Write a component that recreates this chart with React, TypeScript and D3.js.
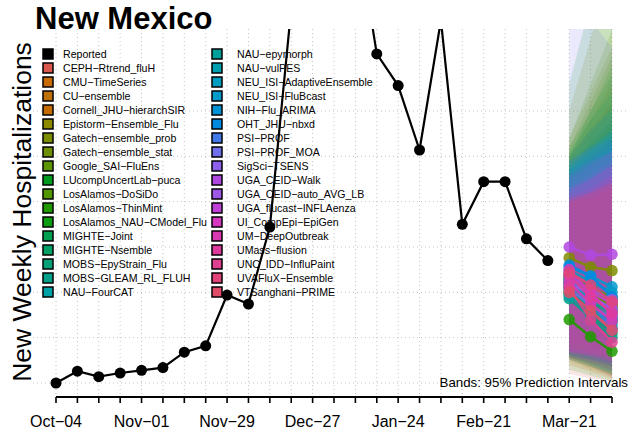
import React, { useEffect } from "react";
import * as d3 from "d3";

// ---------- data ----------
const reportedWeek = [0, 1, 2, 3, 4, 5, 6, 7, 8, 9, 10, 11, 12, 13, 14, 15, 16, 17, 18, 19, 20, 21, 22, 23];
const reportedValue = [0, 13, 7, 11, 14, 17, 34, 41, 97, 87, 172, 413, 520, 600, 511, 363, 328, 257, 400, 175, 222, 222, 159, 135];

const allWeeks = [0, 1, 2, 3, 4, 5, 6, 7, 8, 9, 10, 11, 12, 13, 14, 15, 16, 17, 18, 19, 20, 21, 22, 23, 24, 25, 26];
const xTickWeeks = [0, 4, 8, 12, 16, 20, 24];
const xTickLabels = ["Oct−04", "Nov−01", "Nov−29", "Dec−27", "Jan−24", "Feb−21", "Mar−21"];
const yBreaks = [0, 50, 100, 150, 200, 250, 300];

const forecastWeek = [24, 25, 26];

const models = [
  "CEPH−Rtrend_fluH", "CMU−TimeSeries", "CU−ensemble", "Cornell_JHU−hierarchSIR",
  "Epistorm−Ensemble_Flu", "Gatech−ensemble_prob", "Gatech−ensemble_stat", "Google_SAI−FluEns",
  "LUcompUncertLab−puca", "LosAlamos−DoSiDo", "LosAlamos−ThinMint", "LosAlamos_NAU−CModel_Flu",
  "MIGHTE−Joint", "MIGHTE−Nsemble", "MOBS−EpyStrain_Flu", "MOBS−GLEAM_RL_FLUH", "NAU−FourCAT",
  "NAU−epymorph", "NAU−vulPES", "NEU_ISI−AdaptiveEnsemble", "NEU_ISI−FluBcast", "NIH−Flu_ARIMA",
  "OHT_JHU−nbxd", "PSI−PROF", "PSI−PROF_MOA", "SigSci−TSENS", "UGA_CEID−Walk",
  "UGA_CEID−auto_AVG_LB", "UGA_flucast−INFLAenza", "UI_CompEpi−EpiGen", "UM−DeepOutbreak",
  "UMass−flusion", "UNC_IDD−InfluPaint", "UVAFluX−Ensemble", "VTSanghani−PRIME",
];

const modelColors = [
  "#D9584B", "#C86A00", "#C07000", "#C46C00",
  "#8E8A00", "#7E8C00", "#6E9000", "#5E9400",
  "#009A20", "#529600", "#1E9A00", "#0E9C10",
  "#00A050", "#00A066", "#00A078", "#00A08A", "#00A0A6",
  "#00A09A", "#00A0B0", "#009EC0", "#009ACC", "#0094D6",
  "#008AE0", "#4078E8", "#7070EC", "#8A60EC", "#B048E0",
  "#9E58E8", "#C040D8", "#D838C0", "#D838B0",
  "#DE3C9C", "#E04090", "#E0447A", "#E04C68",
];

const fcMedian = [
  [110, 95, 85], [115, 100, 90], [105, 92, 80], [112, 98, 85],
  [118, 104, 92], [138, 128, 124], [120, 105, 95], [108, 90, 78],
  [100, 85, 70], [115, 100, 85], [70, 51, 35], [112, 94, 60],
  [118, 106, 92], [105, 88, 72], [98, 75, 55], [93, 72, 50], [96, 80, 65],
  [102, 84, 68], [110, 92, 76], [124, 112, 100], [128, 118, 106], [115, 96, 80],
  [130, 118, 95], [108, 90, 60], [104, 86, 72], [112, 96, 82], [150, 141, 142],
  [106, 103, 92], [120, 100, 88], [125, 100, 75], [110, 88, 68],
  [118, 95, 78], [105, 70, 45], [122, 108, 90], [100, 80, 58],
];

const fcUpper = [
  [250, 280, 310], [240, 265, 290], [230, 250, 270], [235, 260, 285],
  [300, 380, 460], [270, 320, 370], [250, 290, 330], [260, 310, 360],
  [330, 420, 500], [270, 330, 390], [250, 300, 350], [260, 300, 340],
  [255, 290, 320], [245, 275, 305], [240, 265, 290], [235, 260, 280], [250, 280, 300],
  [240, 260, 280], [235, 255, 275], [245, 260, 275], [240, 255, 270], [230, 245, 260],
  [235, 250, 265], [245, 260, 270], [430, 400, 370], [225, 240, 255], [230, 245, 255],
  [215, 230, 245], [215, 225, 240], [210, 225, 240], [205, 215, 230],
  [200, 210, 225], [200, 210, 220], [200, 205, 215], [205, 210, 220],
];

const fcLower = [
  [10, 5, 2], [20, 12, 5], [25, 15, 8], [30, 25, 18],
  [32, 28, 22], [40, 35, 30], [32, 26, 20], [28, 22, 15],
  [26, 18, 10], [30, 25, 18], [15, 8, 2], [28, 20, 8],
  [36, 30, 25], [30, 26, 20], [28, 20, 12], [26, 18, 10], [30, 25, 18],
  [32, 26, 20], [34, 28, 22], [38, 34, 30], [40, 36, 32], [32, 26, 20],
  [36, 30, 22], [30, 22, 12], [28, 24, 18], [34, 30, 25], [45, 40, 38],
  [34, 32, 30], [34, 30, 26], [36, 30, 22], [32, 26, 20],
  [34, 30, 24], [26, 18, 6], [38, 34, 28], [28, 22, 14],
];

// ---------- layout ----------
const W = 629;
const H = 432;
const panel = { left: 33, right: 628, top: 29, bottom: 395 };
const FONT = "'Liberation Sans', Arial, Helvetica, sans-serif";

const x = d3.scaleLinear().domain([0, 26]).range([56, 612]);
const y = d3.scaleLinear().domain([0, 300]).range([383, 111]);

export default function App() {
  useEffect(() => {
    document.body.style.margin = "0";
  }, []);

  const line = d3
    .line<[number, number]>()
    .x((d) => x(d[0]))
    .y((d) => y(d[1]));

  const area = d3
    .area<[number, number, number]>()
    .x((d) => x(d[0]))
    .y0((d) => y(d[1]))
    .y1((d) => y(d[2]));

  const reported: [number, number][] = reportedWeek.map((w, i) => [w, reportedValue[i]]);

  const legendCol1 = ["Reported", ...models.slice(0, 17)];
  const legendCol1Colors = ["#000000", ...modelColors.slice(0, 17)];
  const legendCol2 = models.slice(17);
  const legendCol2Colors = modelColors.slice(17);

  const rowY = (i: number) => 54 + i * 14.0;

  return (
    <svg
      width={W}
      height={H}
      style={{ position: "absolute", left: 0, top: 0, background: "#fff" }}
      fontFamily={FONT}
    >
      <defs>
        <clipPath id="panelClip">
          <rect x={panel.left} y={panel.top} width={panel.right - panel.left} height={panel.bottom - panel.top} />
        </clipPath>
      </defs>
      <rect x={0} y={0} width={W} height={H} fill="#fff" />

      {/* grid */}
      <g stroke="#c4c4c4" strokeWidth={1} strokeDasharray="1,3">
        {yBreaks.map((v) => (
          <line key={"h" + v} x1={panel.left} x2={panel.right} y1={y(v)} y2={y(v)} />
        ))}
        {allWeeks.map((w) => (
          <line key={"v" + w} x1={x(w)} x2={x(w)} y1={panel.top} y2={panel.bottom} />
        ))}
      </g>

      <g clipPath="url(#panelClip)">
        {/* ribbons */}
        {models.map((m, i) => (
          <path
            key={"r" + m}
            d={area(forecastWeek.map((w, j) => [w, fcLower[i][j], fcUpper[i][j]] as [number, number, number])) || ""}
            fill={modelColors[i]}
            fillOpacity={0.15}
            stroke="none"
          />
        ))}
        {/* forecast lines */}
        {models.map((m, i) => (
          <g key={"f" + m}>
            <path
              d={line(forecastWeek.map((w, j) => [w, fcMedian[i][j]] as [number, number])) || ""}
              fill="none"
              stroke={modelColors[i]}
              strokeWidth={2.5}
              strokeOpacity={0.9}
            />
            {forecastWeek.map((w, j) => (
              <circle key={j} cx={x(w)} cy={y(fcMedian[i][j])} r={5.8} fill={modelColors[i]} fillOpacity={0.85} />
            ))}
          </g>
        ))}
        {/* reported */}
        <path d={line(reported) || ""} fill="none" stroke="#000" strokeWidth={2.2} />
        {reported.map((d, i) => (
          <circle key={"p" + i} cx={x(d[0])} cy={y(d[1])} r={5.5} fill="#000" />
        ))}
      </g>

      {/* x axis */}
      <line x1={x(0)} x2={x(26)} y1={397} y2={397} stroke="#000" strokeWidth={2} />
      {allWeeks.map((w) => (
        <line key={"t" + w} x1={x(w)} x2={x(w)} y1={397} y2={403} stroke="#000" strokeWidth={1.6} />
      ))}
      {xTickWeeks.map((w, i) => (
        <text key={"xl" + w} x={x(w)} y={427} textAnchor="middle" fontSize={16} fill="#000">
          {xTickLabels[i]}
        </text>
      ))}

      {/* y title */}
      <text
        transform={`translate(31, 212) rotate(-90)`}
        textAnchor="middle"
        fontSize={26.5}
        fill="#000"
      >
        New Weekly Hospitalizations
      </text>

      {/* title */}
      <text x={35} y={29} fontSize={31} fontWeight="bold" fill="#000">
        New Mexico
      </text>

      {/* legend */}
      <g fontSize={10.6} fill="#000">
        {legendCol1.map((name, i) => (
          <g key={"l1" + name}>
            <rect x={43} y={rowY(i) - 5} width={10} height={10} fill={legendCol1Colors[i]} stroke="#000" strokeWidth={1.5} />
            <text x={63} y={rowY(i) + 4}>{name}</text>
          </g>
        ))}
        {legendCol2.map((name, i) => (
          <g key={"l2" + name}>
            <rect x={212} y={rowY(i) - 5} width={10} height={10} fill={legendCol2Colors[i]} stroke="#000" strokeWidth={1.5} />
            <text x={237} y={rowY(i) + 4}>{name}</text>
          </g>
        ))}
      </g>

      {/* band note */}
      <text x={628} y={387} textAnchor="end" fontSize={13.3} fill="#000">
        Bands: 95% Prediction Intervals
      </text>
    </svg>
  );
}
